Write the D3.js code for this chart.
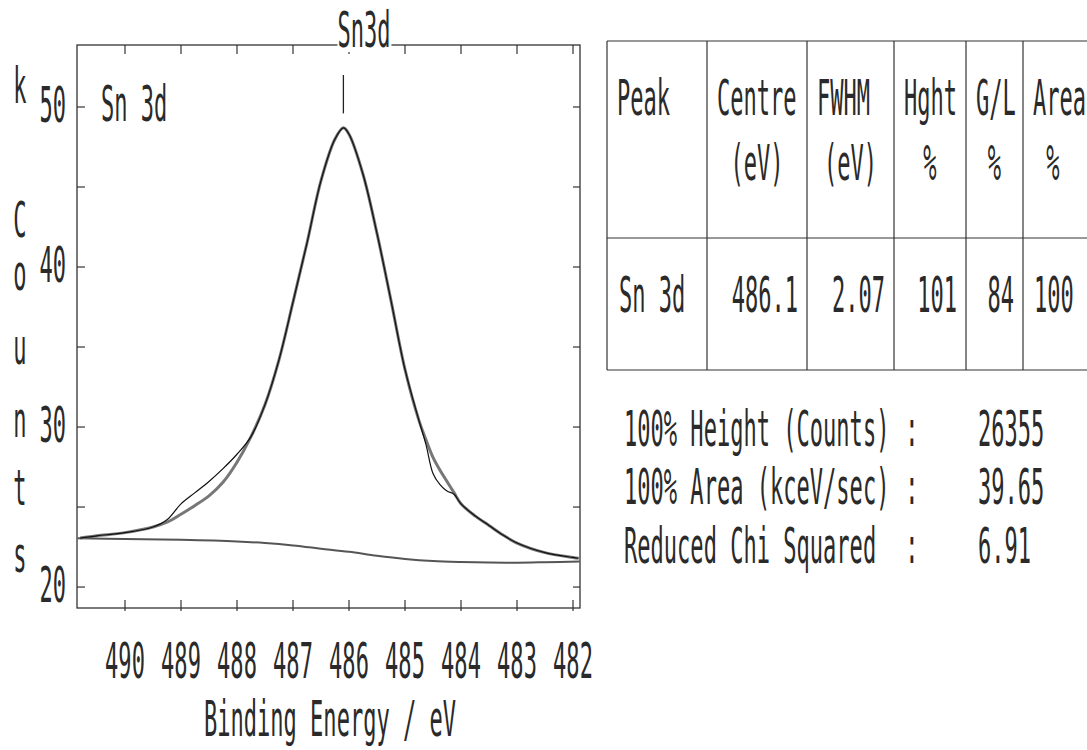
<!DOCTYPE html>
<html>
<head>
<meta charset="utf-8">
<script src="https://cdn.jsdelivr.net/npm/d3@7"></script>
<style>
  body { margin: 0; background: #fff; }
  svg { display: block; }
  text { font-family: "DejaVu Sans Mono", monospace; fill: #2a2a2a; }
</style>
</head>
<body>
<script>
// binding energy grid (eV) with measured counts and fitted envelope (kCounts)
var energy = [490.8, 490.5, 490.0, 489.5, 489.25, 489.0, 488.75, 488.5, 488.25, 488.0, 487.75, 487.5, 487.25, 487.0,
  486.75, 486.5, 486.25, 486.1, 486.0, 485.75, 485.5, 485.25, 485.0, 484.75, 484.625, 484.5, 484.375, 484.25,
  484.125, 484.0, 483.75, 483.5, 483.25, 483.0, 482.5, 482.0, 481.9];
var counts = [23.06, 23.2, 23.4, 23.75, 24.05, 24.55, 25.1, 25.7, 26.55, 27.8, 29.4, 31.4, 34.2, 37.8,
  41.5, 45.4, 48.0, 48.7, 48.3, 45.8, 42.1, 37.9, 33.6, 30.4, 29.2, 28.1, 27.3, 26.6,
  25.9, 25.2, 24.45, 23.85, 23.25, 22.75, 22.15, 21.85, 21.8];
var fit = [23.06, 23.2, 23.4, 23.75, 24.2, 25.2, 25.9, 26.6, 27.4, 28.3, 29.4, 31.4, 34.2, 37.8,
  41.5, 45.4, 48.0, 48.7, 48.3, 45.8, 42.1, 37.9, 33.6, 30.4, 28.9, 27.1, 26.4, 26.0,
  25.8, 25.2, 24.45, 23.85, 23.25, 22.75, 22.15, 21.85, 21.8];

// background
var bgEnergy = [490.85, 490, 489, 488, 487.5, 487, 486.5, 486, 485.5, 485, 484.5, 484, 483.5, 483, 482.5, 481.88];
var bgCounts = [23.05, 23.0, 22.95, 22.85, 22.75, 22.6, 22.4, 22.2, 21.95, 21.75, 21.62, 21.56, 21.53, 21.52, 21.55, 21.6];

var xTicks = [490, 489, 488, 487, 486, 485, 484, 483, 482];
var yTicks = [20, 25, 30, 35, 40, 45, 50];
var yTickLabels = [20, 30, 40, 50];

var peakName = "Sn 3d";
var peakTitle = "Sn3d";
var yLetters = ["k", "C", "o", "u", "n", "t", "s"];
var xTitle = "Binding Energy / eV";

var headRow1 = ["Peak", "Centre", "FWHM", "Hght", "G/L", "Area"];
var headRow2 = ["", "(eV)", "(eV)", "%", "%", "%"];
var peakRow = ["Sn 3d", "486.1", "2.07", "101", "84", "100"];

var statLabels = ["100% Height (Counts)", "100% Area (kceV/sec)", "Reduced Chi Squared"];
var statValues = ["26355", "39.65", "6.91"];

var W = 1087, H = 750;
var fs = 49, sx = 0.45;

var svg = d3.select("body").append("svg")
  .attr("width", W)
  .attr("height", H);

function label(sel, px, py, str, anchor) {
  return sel.append("text")
    .attr("transform", "translate(" + px + "," + py + ") scale(" + sx + ",1)")
    .attr("text-anchor", anchor || "start")
    .style("font-size", fs + "px")
    .text(str);
}

var pL = 77, pR = 580, pT = 45, pB = 608;

var x = d3.scaleLinear().domain([490.857, 481.875]).range([pL, pR]);
var y = d3.scaleLinear().domain([18.69, 53.875]).range([pB, pT]);

var g = svg.append("g");

// frame
g.append("rect")
  .attr("x", pL).attr("y", pT)
  .attr("width", pR - pL).attr("height", pB - pT)
  .attr("fill", "none").attr("stroke", "#333").attr("stroke-width", 1.3);

// ticks
xTicks.forEach(function(v) {
  g.append("line").attr("x1", x(v)).attr("x2", x(v)).attr("y1", pB - 8).attr("y2", pB + 3)
    .attr("stroke", "#333").attr("stroke-width", 1.2);
  g.append("line").attr("x1", x(v)).attr("x2", x(v)).attr("y1", pT).attr("y2", pT + 9)
    .attr("stroke", "#333").attr("stroke-width", 1.2);
  label(g, x(v), 678, String(v), "middle");
});
yTicks.forEach(function(v) {
  g.append("line").attr("x1", pL).attr("x2", pL + 8).attr("y1", y(v)).attr("y2", y(v))
    .attr("stroke", "#333").attr("stroke-width", 1.2);
  g.append("line").attr("x1", pR - 7).attr("x2", pR).attr("y1", y(v)).attr("y2", y(v))
    .attr("stroke", "#333").attr("stroke-width", 1.2);
});
yTickLabels.forEach(function(v) {
  label(g, 66, y(v) + 15, String(v), "end");
});

// axis titles
label(g, 330, 736, xTitle, "middle");
var letterY = [103, 237, 290, 364, 437, 505, 572];
yLetters.forEach(function(c, i) {
  label(g, 20, letterY[i], c, "middle");
});

// curves
var line = d3.line()
  .x(function(d) { return x(d[0]); })
  .y(function(d) { return y(d[1]); })
  .curve(d3.curveCatmullRom.alpha(0.5));

g.append("path")
  .attr("d", line(d3.zip(bgEnergy, bgCounts)))
  .attr("fill", "none").attr("stroke", "#555").attr("stroke-width", 2);

g.append("path")
  .attr("d", line(d3.zip(energy, counts)))
  .attr("fill", "none").attr("stroke", "#777").attr("stroke-width", 3);

g.append("path")
  .attr("d", line(d3.zip(energy, fit)))
  .attr("fill", "none").attr("stroke", "#111").attr("stroke-width", 1.2);

// peak marker and labels
var centre = +peakRow[1];
g.append("line")
  .attr("x1", x(centre)).attr("x2", x(centre))
  .attr("y1", y(52.0)).attr("y2", y(49.6))
  .attr("stroke", "#222").attr("stroke-width", 1.3);
svg.append("rect").attr("x", x(centre) - 6).attr("y", 38).attr("width", 54).attr("height", 14).attr("fill", "#fff");
label(svg, x(centre) - 6, 47, peakTitle, "start");
label(g, 101, 121, peakName, "start");

// table
var tg = svg.append("g");
var cols = [607, 707, 807, 894, 966, 1023, 1100];
var rowsY = [41, 238, 370];
rowsY.forEach(function(ry) {
  tg.append("line").attr("x1", cols[0]).attr("x2", W).attr("y1", ry).attr("y2", ry)
    .attr("stroke", "#333").attr("stroke-width", 1.2);
});
cols.forEach(function(cx) {
  tg.append("line").attr("x1", cx).attr("x2", cx).attr("y1", rowsY[0]).attr("y2", rowsY[2])
    .attr("stroke", "#333").attr("stroke-width", 1.2);
});
headRow1.forEach(function(t, i) {
  label(tg, cols[i] + 10, 115, t, "start");
});
headRow2.forEach(function(t, i) {
  var c = i < 5 ? (cols[i] + cols[i + 1]) / 2 : cols[i] + 30;
  label(tg, c, 180, t, "middle");
});
peakRow.forEach(function(t, i) {
  if (i === 0) label(tg, cols[i] + 12, 312, t, "start");
  else if (i < 5) label(tg, cols[i + 1] - 9, 312, t, "end");
  else label(tg, cols[i] + 11, 312, t, "start");
});

// statistics
var statY = [446, 504, 563];
statLabels.forEach(function(t, i) {
  label(tg, 624, statY[i], t, "start");
  label(tg, 912, statY[i], ":", "middle");
  label(tg, 978, statY[i], statValues[i], "start");
});
</script>
</body>
</html>
